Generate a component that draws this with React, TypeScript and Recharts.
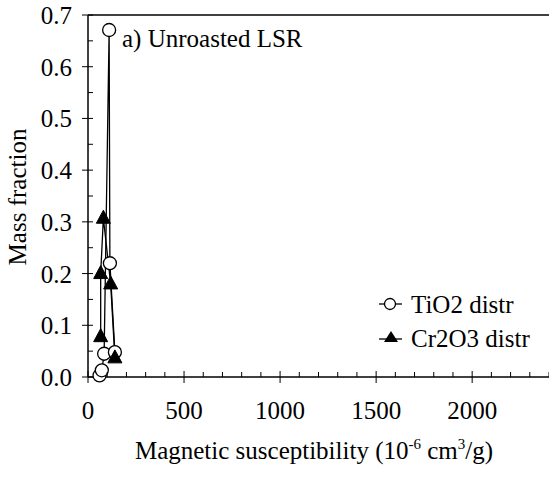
import { LineChart, Line, XAxis, YAxis, ReferenceLine, Label } from 'recharts';

// magnetic susceptibility (1e-6 cm3/g) vs mass fraction
const tio2X = [60, 72, 84, 110, 114, 140];
const tio2Y = [0.003, 0.013, 0.045, 0.671, 0.22, 0.048];
const cr2o3X = [66, 66, 80, 118, 140];
const cr2o3Y = [0.078, 0.2, 0.307, 0.18, 0.037];

const xTicks = Array.from({ length: 25 }, (_, i) => i * 100);
const yTicks = Array.from({ length: 15 }, (_, i) => Math.round(i * 5) / 100);

const tio2 = tio2X.map((x, i) => ({ x, y: tio2Y[i] }));
const cr2o3 = cr2o3X.map((x, i) => ({ x, y: cr2o3Y[i] }));

const FONT = 'Liberation Serif, Times New Roman, serif';
const txt = { fontFamily: FONT, fill: '#000' };

function XTick({ x, y, payload }: any) {
  const major = payload.value % 500 === 0;
  return (
    <g>
      <line x1={x} x2={x} y1={major ? y - 6 : y - 5} y2={major ? y + 6 : y} stroke="#000" strokeWidth={1} />
      {major && (
        <text x={x} y={y + 42} textAnchor="middle" fontFamily={FONT} style={{ ...txt, fontSize: 25 }}>
          {payload.value}
        </text>
      )}
    </g>
  );
}

function YTick({ x, y, payload }: any) {
  const v = payload.value;
  const major = Math.abs(Math.round(v * 10) - v * 10) < 1e-6;
  return (
    <g>
      <line x1={major ? x - 6 : x} x2={x + 5} y1={y} y2={y} stroke="#000" strokeWidth={1} />
      {major && (
        <text x={x - 16} y={y + 9} textAnchor="end" fontFamily={FONT} style={{ ...txt, fontSize: 25 }}>
          {v.toFixed(1)}
        </text>
      )}
    </g>
  );
}

function Circle(props: any) {
  const { cx, cy, index } = props;
  return <circle key={'c' + index} cx={cx} cy={cy} r={6.5} fill="#fff" stroke="#000" strokeWidth={1.3} />;
}

function Tri(props: any) {
  const { cx, cy, index } = props;
  return (
    <polygon
      key={'t' + index}
      points={`${cx},${cy - 8} ${cx - 7},${cy + 5} ${cx + 7},${cy + 5}`}
      fill="#000"
      stroke="#000"
    />
  );
}

function LegendBox() {
  return (
    <svg width={549} height={477} style={{ position: 'absolute', left: 0, top: 0, pointerEvents: 'none' }}>
      <line x1={379} x2={402} y1={304} y2={304} stroke="#000" strokeWidth={1.3} />
      <circle cx={390} cy={304} r={5.5} fill="#fff" stroke="#000" strokeWidth={1.3} />
      <text x={411} y={313} fontFamily={FONT} style={{ ...txt, fontSize: 25 }}>TiO2 distr</text>
      <line x1={379} x2={402} y1={339} y2={339} stroke="#000" strokeWidth={1.3} />
      <polygon points="391,331 384,342 398,342" fill="#000" />
      <text x={411} y={347} fontFamily={FONT} style={{ ...txt, fontSize: 25 }}>Cr2O3 distr</text>
    </svg>
  );
}

function XLabel(props: any) {
  const { viewBox } = props;
  const cx = 314;
  return (
    <text x={cx} y={viewBox.y + 82} textAnchor="middle" fontFamily={FONT} style={{ ...txt, fontSize: 25 }}>
      Magnetic susceptibility (10
      <tspan dy={-10} fontSize={15}>-6</tspan>
      <tspan dy={10}> cm</tspan>
      <tspan dy={-10} fontSize={15}>3</tspan>
      <tspan dy={10}>/g)</tspan>
    </text>
  );
}

function YLabel(props: any) {
  const { viewBox } = props;
  const cy = 197;
  return (
    <text
      x={26}
      y={cy}
      textAnchor="middle"
      transform={`rotate(-90 26 ${cy})`}
      fontFamily={FONT}
      style={{ ...txt, fontSize: 25 }}
    >
      Mass fraction
    </text>
  );
}

export default function App() {
  return (
    <div style={{ position: 'absolute', left: 0, top: 0, width: 549, height: 477, background: '#fff' }}>
      <LineChart width={549} height={477} margin={{ top: 15, right: 0, left: 0, bottom: 0 }}>
        <XAxis
          type="number"
          dataKey="x"
          domain={[0, 2400]}
          ticks={xTicks}
          interval={0}
          allowDataOverflow
          height={100}
          tickSize={0}
          tickMargin={0}
          tick={<XTick />}
          stroke="#000"
          strokeWidth={1.5}
        >
          <Label content={<XLabel />} />
        </XAxis>
        <YAxis
          type="number"
          dataKey="y"
          domain={[0, 0.7]}
          ticks={yTicks}
          interval={0}
          width={88}
          tickSize={0}
          tickMargin={0}
          tick={<YTick />}
          stroke="#000"
          strokeWidth={1.5}
        >
          <Label content={<YLabel />} />
        </YAxis>
        <ReferenceLine y={0.7} stroke="#000" strokeWidth={1.5}>
          <Label
            value="a) Unroasted LSR"
            position="insideTopLeft"
            offset={0}
            dx={34}
            dy={14}
            fontFamily={FONT}
            style={{ ...txt, fontSize: 25 }}
          />
        </ReferenceLine>
        <Line
          data={tio2}
          dataKey="y"
          stroke="#000"
          strokeWidth={1.3}
          dot={Circle}
          isAnimationActive={false}
          legendType="none"
        />
        <Line
          data={cr2o3}
          dataKey="y"
          stroke="#000"
          strokeWidth={1.3}
          dot={Tri}
          isAnimationActive={false}
          legendType="none"
        />
      </LineChart>
      <LegendBox />
    </div>
  );
}
